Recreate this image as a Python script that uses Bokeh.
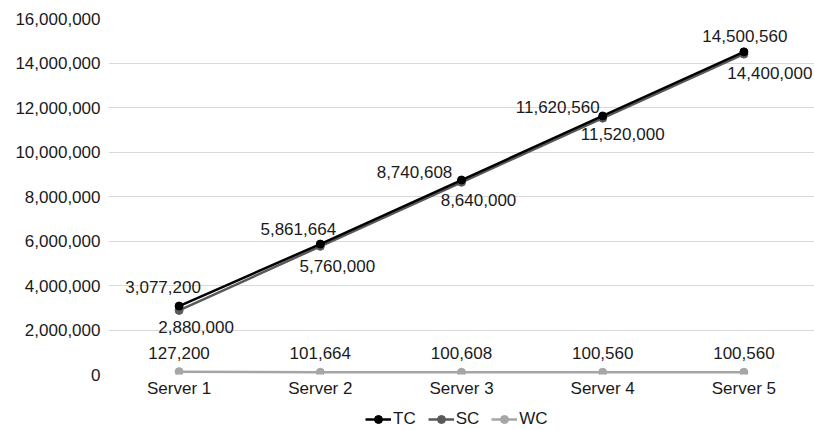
from bokeh.plotting import figure
from bokeh.layouts import column
from bokeh.models import (ColumnDataSource, Legend, LegendItem, NumeralTickFormatter,
                          FixedTicker, Range1d)
from bokeh.core.properties import value
from bokeh.embed import file_html
from bokeh.resources import INLINE

servers = ["Server 1", "Server 2", "Server 3", "Server 4", "Server 5"]
tc = [3077200, 5861664, 8740608, 11620560, 14500560]
sc = [2880000, 5760000, 8640000, 11520000, 14400000]
wc = [127200, 101664, 100608, 100560, 100560]
y_ticks = [0, 2000000, 4000000, 6000000, 8000000, 10000000, 12000000, 14000000, 16000000]

# label nudges (screen px), styling only
tc_dx = [-16, -22, -47, -45, 1]
tc_dy = [-19, -15, -8, -9, -16]
sc_dx = [17, 17, 17, 20, 26]
sc_dy = [17, 20, 18, 16, 19]
wc_dx = [0, 0, 0, 0, 0]
wc_dy = [-19, -19, -19, -19, -19]

FONT = "Liberation Sans"
TXT = "#1a1a1a"
C_TC, C_SC, C_WC = "#000000", "#595959", "#a6a6a6"

p = figure(x_range=servers, y_range=(0, 16000000), width=814, height=400,
           output_backend="svg", toolbar_location=None,
           min_border_left=108, min_border_right=0, min_border_top=18, min_border_bottom=26)
p.outline_line_color = None
p.background_fill_color = "white"
p.border_fill_color = "white"

p.yaxis.ticker = FixedTicker(ticks=y_ticks)
p.yaxis.formatter = NumeralTickFormatter(format="0,0")
for ax in (p.xaxis[0], p.yaxis[0]):
    ax.axis_line_color = None
    ax.major_tick_line_color = None
    ax.minor_tick_line_color = None
    ax.major_tick_out = 0
    ax.major_tick_in = 0
    ax.major_label_text_font = FONT
    ax.major_label_text_font_size = "17px"
    ax.major_label_text_color = TXT
p.yaxis.major_label_standoff = 8
p.xaxis.major_label_standoff = 4
p.xgrid.grid_line_color = None
p.ygrid.grid_line_color = "#d9d9d9"
p.ygrid.grid_line_width = 1

def make_src(vals, dx, dy):
    return ColumnDataSource(dict(x=servers, y=vals,
                                 lbl=[f"{v:,}" for v in vals], dx=dx, dy=dy))

s_tc = make_src(tc, tc_dx, tc_dy)
s_sc = make_src(sc, sc_dx, sc_dy)
s_wc = make_src(wc, wc_dx, wc_dy)

series = (("WC", s_wc, C_WC), ("SC", s_sc, C_SC), ("TC", s_tc, C_TC))
for name, src, col in series:
    p.line("x", "y", source=src, line_color=col, line_width=2.5)
    p.scatter("x", "y", source=src, size=8, fill_color=col, line_color=col)
    p.text("x", "y", text="lbl", source=src, x_offset="dx", y_offset="dy",
           text_align="center", text_baseline="middle",
           text_font=value(FONT), text_font_size="17px", text_color=TXT)

# legend strip below the chart (its renderers hold the same series, drawn off-range)
lg = figure(width=814, height=30, output_backend="svg", toolbar_location=None,
            x_range=servers, y_range=Range1d(-2, -1),
            x_axis_location=None, y_axis_location=None,
            min_border=0, min_border_left=0, min_border_right=0,
            min_border_top=0, min_border_bottom=0)
lg.grid.visible = False
lg.outline_line_color = None
items = []
for name, src, col in series[::-1]:
    l = lg.line("x", "y", source=src, line_color=col, line_width=2.5)
    m = lg.scatter("x", "y", source=src, size=8, fill_color=col, line_color=col)
    items.append(LegendItem(label=name, renderers=[l, m]))

legend = Legend(items=items, orientation="horizontal", location=(257, 1),
                label_text_font=FONT, label_text_font_size="17px", label_text_color=TXT,
                glyph_width=26, glyph_height=20, label_height=20, label_standoff=2,
                spacing=12, padding=0, margin=0, border_line_color=None,
                background_fill_alpha=0)
lg.add_layout(legend)

layout = column(p, lg, spacing=0)
open("out.html", "w").write(file_html(layout, INLINE))
